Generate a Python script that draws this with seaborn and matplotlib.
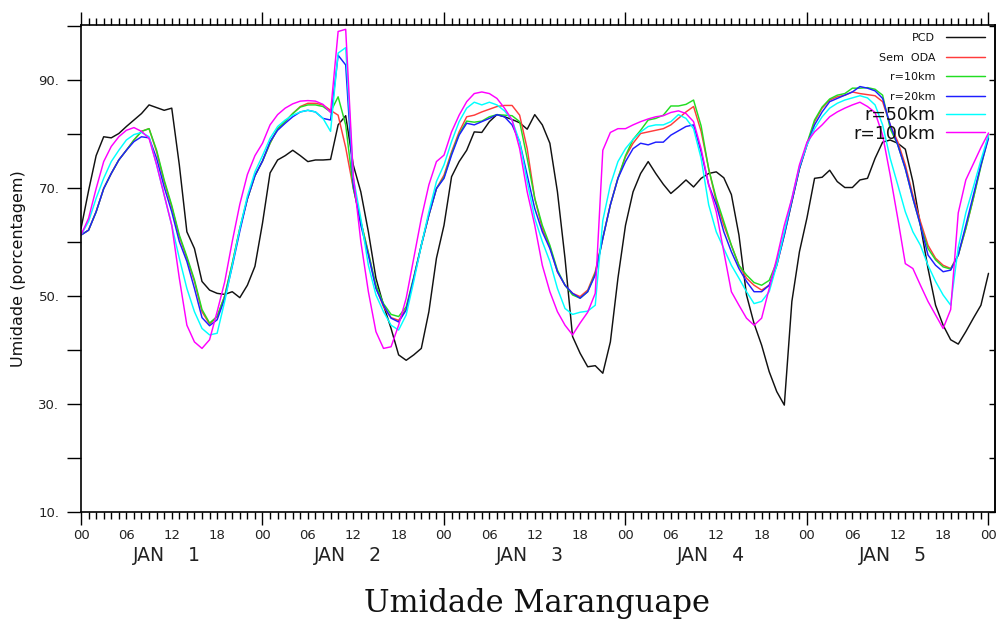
import numpy as np
import pandas as pd
import matplotlib
matplotlib.use("Agg")
import matplotlib.pyplot as plt
import matplotlib.transforms as mtransforms
from matplotlib.ticker import FixedLocator, FuncFormatter
import seaborn as sns

# ---------------- data (hourly, Jan 1 00h .. Jan 6 00h) ----------------
hours = list(range(121))
series_names = ["PCD", "Sem  ODA", "r=10km", "r=20km", "r=50km", "r=100km"]
series_colors = ["#111111", "#ff3c3c", "#22dd22", "#1e1eff", "#00ffff", "#ff00ff"]

pcd = [62.5, 69.5, 76.0, 79.5, 79.3, 80.1, 81.4, 82.6, 83.8, 85.4, 84.9, 84.4, 84.8, 74.3, 61.9, 58.8, 52.7, 51.1, 50.5, 50.3, 50.8, 49.7, 52.0, 55.5,
       63.5, 72.8, 75.2, 76.0, 77.0, 76.0, 74.9, 75.2, 75.2, 75.3, 81.7, 83.4, 74.3, 69.3, 61.9, 53.3, 48.3, 44.0, 39.1, 38.1, 39.1, 40.3, 47.1, 57.0,
       63.1, 72.1, 74.9, 77.0, 80.4, 80.3, 82.3, 83.6, 83.2, 82.7, 82.1, 80.9, 83.6, 81.7, 78.3, 69.3, 57.0, 42.5, 39.4, 36.9, 37.1, 35.7, 41.5, 53.3,
       63.1, 69.3, 72.7, 74.9, 72.7, 70.7, 69.0, 70.2, 71.5, 70.2, 71.8, 72.7, 73.0, 71.9, 68.8, 61.3, 50.2, 44.9, 40.9, 36.0, 32.3, 29.8, 49.0, 58.2,
       64.5, 71.8, 72.0, 73.3, 71.2, 70.1, 70.1, 71.5, 71.8, 75.5, 78.5, 78.9, 78.3, 77.2, 71.2, 63.1, 55.1, 48.3, 44.6, 41.9, 41.1, 43.4, 45.9, 48.3, 54.2]

sem_oda = [61.3, 62.2, 65.6, 69.9, 72.7, 75.2, 77.0, 78.9, 80.5, 81.0, 76.7, 71.2, 66.5, 61.0, 57.0, 52.7, 47.1, 44.8, 46.2, 50.0, 56.0, 62.5, 68.0, 72.3,
           75.0, 78.3, 81.0, 82.3, 83.8, 85.1, 85.7, 85.7, 85.4, 84.4, 83.5, 77.5, 70.0, 63.8, 58.0, 51.6, 48.0, 46.0, 45.5, 47.6, 53.3, 59.4, 65.0, 69.9,
           72.4, 76.7, 80.4, 83.2, 83.5, 84.1, 84.6, 85.1, 85.3, 85.3, 83.5, 77.3, 68.1, 62.5, 59.1, 54.5, 52.0, 50.5, 49.9, 51.1, 54.5, 60.7, 66.9, 71.8,
           75.8, 78.3, 80.1, 80.4, 80.7, 81.0, 81.7, 82.9, 84.1, 85.1, 80.5, 73.6, 67.5, 63.1, 59.4, 55.7, 53.3, 52.0, 51.1, 52.0, 55.7, 61.3, 67.5, 73.6,
           78.0, 82.3, 84.8, 86.3, 86.9, 87.2, 87.8, 87.5, 87.3, 87.1, 86.0, 81.7, 78.6, 74.3, 68.7, 63.8, 59.4, 57.0, 55.7, 55.1, 57.6, 62.5, 68.1, 74.3, 79.8]

r10 = [61.3, 62.2, 65.6, 69.9, 72.7, 75.2, 77.0, 78.9, 80.5, 81.0, 77.0, 71.5, 66.8, 61.3, 57.3, 53.0, 47.5, 45.0, 46.2, 50.0, 56.0, 62.5, 68.0, 72.3,
       75.0, 78.3, 81.0, 82.3, 83.8, 85.0, 85.4, 85.4, 85.1, 84.1, 86.9, 81.7, 70.0, 63.8, 58.0, 52.0, 48.6, 46.6, 46.2, 48.0, 53.5, 59.4, 65.0, 69.9,
       72.0, 76.4, 80.0, 82.4, 82.2, 82.4, 83.2, 83.6, 83.5, 83.4, 82.3, 75.5, 68.1, 63.1, 59.4, 54.8, 52.0, 50.2, 49.6, 50.8, 54.2, 60.7, 66.9, 71.8,
       76.0, 79.0, 80.7, 82.6, 82.9, 83.5, 85.2, 85.2, 85.5, 86.3, 81.5, 73.5, 68.1, 63.8, 59.4, 55.7, 53.9, 52.5, 52.0, 52.9, 56.3, 61.5, 67.5, 73.6,
       78.3, 82.6, 85.0, 86.5, 87.2, 87.5, 88.5, 88.5, 88.6, 88.3, 87.2, 81.0, 78.0, 73.6, 68.1, 63.1, 58.8, 56.7, 55.4, 55.0, 57.6, 62.5, 68.1, 74.0, 79.5]

r20 = [61.3, 62.2, 65.6, 69.9, 72.7, 75.2, 77.0, 78.6, 79.5, 79.3, 75.5, 70.2, 65.6, 60.1, 56.4, 51.4, 46.0, 44.5, 45.6, 49.5, 55.5, 62.0, 68.0, 72.3,
       75.0, 78.6, 80.7, 82.0, 83.2, 84.1, 84.4, 84.1, 82.9, 82.6, 94.6, 92.8, 70.6, 63.1, 57.6, 51.4, 48.3, 45.9, 45.2, 47.4, 53.3, 59.4, 65.0, 69.9,
       71.8, 76.1, 79.8, 82.0, 81.7, 82.3, 82.9, 83.6, 83.2, 81.7, 78.6, 72.4, 66.2, 61.9, 58.8, 54.5, 52.0, 50.5, 49.6, 50.8, 53.9, 60.7, 66.9, 71.8,
       74.9, 77.3, 78.3, 78.0, 78.5, 78.5, 79.8, 80.6, 81.4, 81.7, 76.7, 70.6, 66.9, 61.9, 58.2, 55.1, 52.7, 50.8, 50.8, 52.0, 55.7, 61.3, 67.5, 73.6,
       78.0, 81.7, 84.1, 86.0, 86.6, 87.2, 87.8, 88.8, 88.5, 88.0, 86.6, 81.7, 78.0, 73.6, 68.1, 63.1, 57.6, 55.7, 54.5, 54.8, 57.6, 63.1, 68.7, 74.3, 79.2]

r50 = [61.3, 63.8, 68.1, 71.8, 74.9, 77.0, 78.9, 79.9, 80.3, 79.5, 74.3, 68.7, 63.1, 57.0, 51.4, 47.1, 44.0, 42.8, 43.1, 49.0, 55.7, 62.5, 68.5, 73.0,
       76.0, 79.2, 81.4, 82.6, 83.5, 84.1, 84.4, 84.1, 82.9, 80.5, 95.0, 96.0, 72.0, 64.4, 55.7, 50.2, 47.1, 44.6, 43.7, 46.5, 52.7, 59.4, 65.6, 71.2,
       74.3, 78.6, 82.3, 84.8, 85.9, 85.4, 85.9, 85.4, 84.3, 82.6, 78.6, 71.2, 64.4, 60.1, 56.4, 51.4, 47.7, 46.6, 47.0, 47.2, 48.3, 64.0, 70.6, 74.9,
       77.3, 79.0, 80.4, 81.4, 81.7, 81.7, 82.3, 83.6, 82.9, 81.0, 75.5, 66.9, 61.9, 58.8, 55.7, 53.3, 50.8, 48.6, 49.0, 50.8, 55.7, 61.9, 68.1, 74.0,
       78.0, 81.0, 83.2, 84.8, 85.7, 86.3, 86.7, 87.1, 86.7, 85.4, 81.7, 75.5, 70.6, 65.6, 61.9, 59.4, 55.7, 52.7, 50.2, 48.3, 59.0, 65.4, 70.2, 75.2, 79.8]

r100 = [61.3, 64.4, 69.9, 74.9, 77.7, 79.5, 80.7, 81.2, 80.5, 79.2, 74.3, 68.7, 63.1, 53.3, 44.6, 41.5, 40.3, 41.9, 47.1, 52.6, 60.1, 67.0, 72.5, 76.0,
        78.3, 81.7, 83.6, 84.8, 85.6, 86.1, 86.2, 86.1, 85.5, 84.0, 99.0, 99.4, 72.4, 60.1, 50.8, 43.4, 40.3, 40.6, 44.6, 49.6, 57.0, 64.4, 70.6, 74.9,
        76.1, 80.4, 83.5, 86.0, 87.5, 87.8, 87.5, 86.6, 84.8, 82.6, 77.3, 69.3, 63.1, 55.7, 50.8, 47.1, 44.6, 42.8, 45.0, 47.0, 50.5, 77.0, 80.3, 81.0,
        81.0, 81.7, 82.3, 82.8, 83.2, 83.4, 84.0, 84.3, 83.8, 82.3, 77.3, 70.6, 65.6, 58.2, 50.8, 48.3, 45.9, 44.6, 45.9, 51.4, 57.0, 63.1, 68.1, 74.3,
        78.5, 80.4, 81.7, 83.2, 84.1, 84.8, 85.4, 85.9, 85.1, 84.0, 79.8, 72.4, 64.4, 56.0, 55.1, 52.0, 49.0, 46.5, 44.0, 47.5, 65.4, 71.5, 74.5, 77.5, 80.2]

y_ticks = [10, 20, 30, 40, 50, 60, 70, 80, 90, 100]
day_labels = ["JAN    1", "JAN    2", "JAN    3", "JAN    4", "JAN    5"]
title = "Umidade Maranguape"
ylabel = "Umidade (porcentagem)"

# ---------------- build long table ----------------
all_series = [pcd, sem_oda, r10, r20, r50, r100]
frames = []
for name, vals in zip(series_names, all_series):
    frames.append(pd.DataFrame({"hora": hours, "umidade": vals, "serie": name}))
df = pd.concat(frames, ignore_index=True)

# ---------------- figure ----------------
sns.set_theme(style="white")
plt.rcParams["font.family"] = ["DejaVu Sans"]
fig = plt.figure(figsize=(9.99, 6.19), dpi=100)
W, H = 999, 619
AW, AH = 995 - 81, 512 - 25
ax = fig.add_axes([81 / W, 1 - 512 / H, AW / W, AH / H])

sns.lineplot(data=df, x="hora", y="umidade", hue="serie", hue_order=series_names,
             palette=series_colors, legend=False, estimator=None, sort=False,
             linewidth=1.05, ax=ax)

ax.set_xlim(0, 120.86)
ax.set_ylim(10, 100.2)
ax.set_xlabel("")
ax.set_ylabel(ylabel, fontsize=11.5, color="#111111", labelpad=9)

for s in ax.spines.values():
    s.set_visible(True)
    s.set_color("black")
    s.set_linewidth(1.2)

# x ticks: days major, hours minor
day_ticks = [h for h in hours if h % 24 == 0]
hour_ticks = [h for h in hours if h % 24 != 0]
ax.xaxis.set_major_locator(FixedLocator(day_ticks))
ax.xaxis.set_minor_locator(FixedLocator(hour_ticks))
ax.xaxis.set_major_formatter(FuncFormatter(lambda v, p: "00"))
ax.xaxis.set_minor_formatter(FuncFormatter(lambda v, p: f"{int(round(v)) % 24:02d}" if int(round(v)) % 6 == 0 else ""))
ax.tick_params(axis="x", which="major", direction="out", length=9.1, width=1.0, pad=3.4,
               top=True, bottom=True, labelsize=9.5, labelcolor="#222222", color="black")
ax.tick_params(axis="x", which="minor", direction="out", length=4.8, width=1.0, pad=7.7,
               top=True, bottom=True, labelsize=9.5, labelcolor="#222222", color="black")

# y ticks
ax.yaxis.set_major_locator(FixedLocator(y_ticks))
ax.yaxis.set_major_formatter(FuncFormatter(lambda v, p: f"{int(round(v))}." if int(round(v)) % 20 == 10 else ""))
ax.tick_params(axis="y", which="major", direction="out", length=10, width=1.0, pad=5.5,
               left=True, right=False, labelsize=9.5, labelcolor="#222222", color="black")
sec = ax.secondary_yaxis("right")
sec.yaxis.set_major_locator(FixedLocator(y_ticks))
sec.tick_params(axis="y", direction="in", length=4, width=1.0, labelright=False, color="black")
sec.spines["right"].set_linewidth(1.2)

# day labels under the hour labels
trans = mtransforms.blended_transform_factory(ax.transData, ax.transAxes)
for d, lab in enumerate(day_labels):
    ax.text(24 * d + 11.3, -0.0903, lab, transform=trans, ha="center", va="center",
            fontsize=13.5, color="#222222")

fig.text(537 / W, 1 - 612 / H, title, ha="center", va="baseline",
         fontsize=22, family="DejaVu Serif", color="#111111")

# legend (small entries, then large entries)
handles = ax.get_lines()[:len(series_names)]
line_len_pt = 28.0
gap_pt = 7.9
leg1 = ax.legend(handles[:4], series_names[:4], loc="upper right",
                 bbox_to_anchor=(1 - 10 / AW, 1 - 8 / AH), borderaxespad=0, borderpad=0,
                 frameon=False, markerfirst=False, fontsize=8,
                 handlelength=line_len_pt / 8, handletextpad=gap_pt / 8, labelspacing=0.87)
for t in leg1.get_texts():
    t.set_color("#111111")
ax.add_artist(leg1)
leg2 = ax.legend(handles[4:], series_names[4:], loc="upper right",
                 bbox_to_anchor=(1 - 10 / AW, 1 - 81 / AH), borderaxespad=0, borderpad=0,
                 frameon=False, markerfirst=False, fontsize=12.5,
                 handlelength=line_len_pt / 12.5, handletextpad=gap_pt / 12.5, labelspacing=0.03)
for t in leg2.get_texts():
    t.set_color("#111111")

fig.savefig("out.png", dpi=100, facecolor="white")
